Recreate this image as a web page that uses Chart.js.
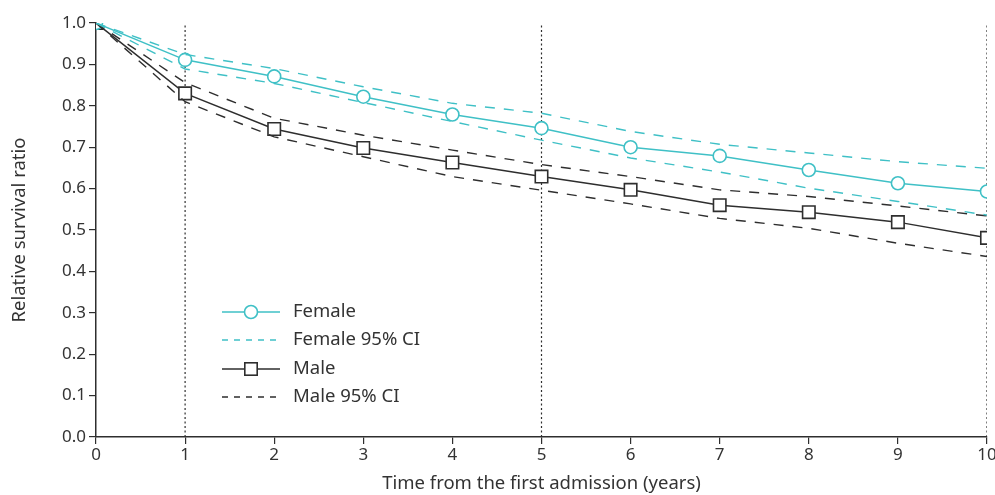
<!DOCTYPE html>
<html>
<head>
<meta charset="utf-8">
<script src="https://cdn.jsdelivr.net/npm/chart.js@4/dist/chart.umd.min.js"></script>
<style>
  html, body { margin: 0; padding: 0; background: #fff; }
  #wrap { width: 995px; height: 495px; position: relative; }
</style>
</head>
<body>
<div id="wrap"><canvas id="chart"></canvas></div>
<script>
/* Relative survival ratio by sex over 10 years, with 95% CI bands. */

const years = [0, 1, 2, 3, 4, 5, 6, 7, 8, 9, 10];
const femaleRatio = [1.0, 0.911, 0.871, 0.822, 0.779, 0.746, 0.700, 0.679, 0.645, 0.613, 0.593];
const femaleUpper = [1.0, 0.924, 0.890, 0.846, 0.806, 0.782, 0.738, 0.707, 0.686, 0.665, 0.649];
const femaleLower = [1.0, 0.889, 0.854, 0.808, 0.762, 0.717, 0.674, 0.640, 0.601, 0.569, 0.536];
const maleRatio = [1.0, 0.830, 0.744, 0.698, 0.663, 0.629, 0.597, 0.560, 0.543, 0.519, 0.481];
const maleUpper = [1.0, 0.856, 0.770, 0.729, 0.693, 0.658, 0.629, 0.597, 0.581, 0.558, 0.534];
const maleLower = [1.0, 0.810, 0.725, 0.677, 0.629, 0.596, 0.563, 0.528, 0.504, 0.468, 0.436];
const markedYears = [1, 5, 10];
const legendLabels = ['Female', 'Female 95% CI', 'Male', 'Male 95% CI'];

const CYAN = '#3fc0c6';
const DARK = '#2e2e2e';
const FONT = '"Noto Sans", "Open Sans", sans-serif';

const pts = (vals) => years.map((x, i) => ({ x, y: vals[i] }));

function ciSet(vals, color) {
  return {
    data: pts(vals), borderColor: color, borderWidth: 1.4,
    borderDash: [10, 9], pointRadius: 0, fill: false, tension: 0,
  };
}

const datasets = [];
for (const yr of markedYears) {
  datasets.push({
    data: [{ x: yr, y: 0 }, { x: yr, y: 1 }],
    borderColor: DARK, borderWidth: 1.2, borderDash: [2, 2.5],
    pointRadius: 0, order: 10,
  });
}
datasets.push(ciSet(femaleUpper, CYAN), ciSet(femaleLower, CYAN));
datasets.push(ciSet(maleUpper, DARK), ciSet(maleLower, DARK));
datasets.push({
  data: pts(femaleRatio), borderColor: CYAN, borderWidth: 1.5,
  pointStyle: 'circle', pointRadius: 6.5, pointBorderWidth: 1.6,
  pointBackgroundColor: '#fff', pointBorderColor: CYAN, order: 0,
});
datasets.push({
  data: pts(maleRatio), borderColor: DARK, borderWidth: 1.5,
  pointStyle: 'rect', pointRadius: 8.8, pointBorderWidth: 1.6,
  pointBackgroundColor: '#fff', pointBorderColor: DARK, order: 0,
});

// legend drawn inside the plot, lower-left
const insideLegend = {
  id: 'insideLegend',
  afterDraw(chart) {
    const ctx = chart.ctx;
    const x0 = 222, x1 = 280, tx = 293;
    const rows = [312, 340, 369, 397];
    const styles = [
      { color: CYAN, dash: [], marker: 'circle' },
      { color: CYAN, dash: [6, 6], marker: null },
      { color: DARK, dash: [], marker: 'rect' },
      { color: DARK, dash: [6, 6], marker: null },
    ];
    ctx.save();
    rows.forEach((y, i) => {
      const s = styles[i];
      ctx.strokeStyle = s.color;
      ctx.lineWidth = 1.4;
      ctx.setLineDash(s.dash);
      ctx.beginPath(); ctx.moveTo(x0, y); ctx.lineTo(x1, y); ctx.stroke();
      ctx.setLineDash([]);
      const cx = (x0 + x1) / 2;
      ctx.fillStyle = '#fff';
      ctx.lineWidth = 1.6;
      if (s.marker === 'circle') {
        ctx.beginPath(); ctx.arc(cx, y, 6.5, 0, Math.PI * 2); ctx.fill(); ctx.stroke();
      } else if (s.marker === 'rect') {
        ctx.fillRect(cx - 6.2, y - 6.2, 12.4, 12.4);
        ctx.strokeRect(cx - 6.2, y - 6.2, 12.4, 12.4);
      }
      ctx.fillStyle = '#333';
      ctx.font = '18.5px ' + FONT;
      ctx.textBaseline = 'middle';
      ctx.fillText(legendLabels[i], tx, y);
    });
    ctx.restore();
  },
};

const tickFont = { family: FONT, size: 17 };

new Chart(document.getElementById('chart'), {
  type: 'line',
  data: { datasets },
  plugins: [insideLegend],
  options: {
    responsive: true,
    maintainAspectRatio: false,
    animation: false,
    layout: { autoPadding: false, padding: { top: 23, right: 0, left: 0, bottom: 0 } },
    plugins: { legend: { display: false }, tooltip: { enabled: false } },
    scales: {
      x: {
        type: 'linear', min: 0, max: 10,
        ticks: { stepSize: 1, color: '#333', font: tickFont, padding: 1 },
        grid: { drawOnChartArea: false, tickLength: 7, color: DARK, lineWidth: 1.2 },
        border: { display: true, color: DARK, width: 1.5 },
        title: { display: true, text: 'Time from the first admission (years)', color: '#333',
                 font: { family: FONT, size: 18.5 }, padding: { top: 0, bottom: 0 } },
        afterFit(scale) { scale.height = 58; scale.paddingRight = 8; },
      },
      y: {
        min: 0, max: 1,
        ticks: { stepSize: 0.1, color: '#333', font: tickFont, padding: 3,
                 callback: (v) => v.toFixed(1) },
        grid: { drawOnChartArea: false, tickLength: 7, color: DARK, lineWidth: 1.2 },
        border: { display: true, color: DARK, width: 1.5 },
        title: { display: true, text: 'Relative survival ratio', color: '#333',
                 font: { family: FONT, size: 18.5 }, padding: { top: 9, bottom: 0 } },
        afterFit(scale) { scale.width = 96; },
      },
    },
  },
});
</script>
</body>
</html>
